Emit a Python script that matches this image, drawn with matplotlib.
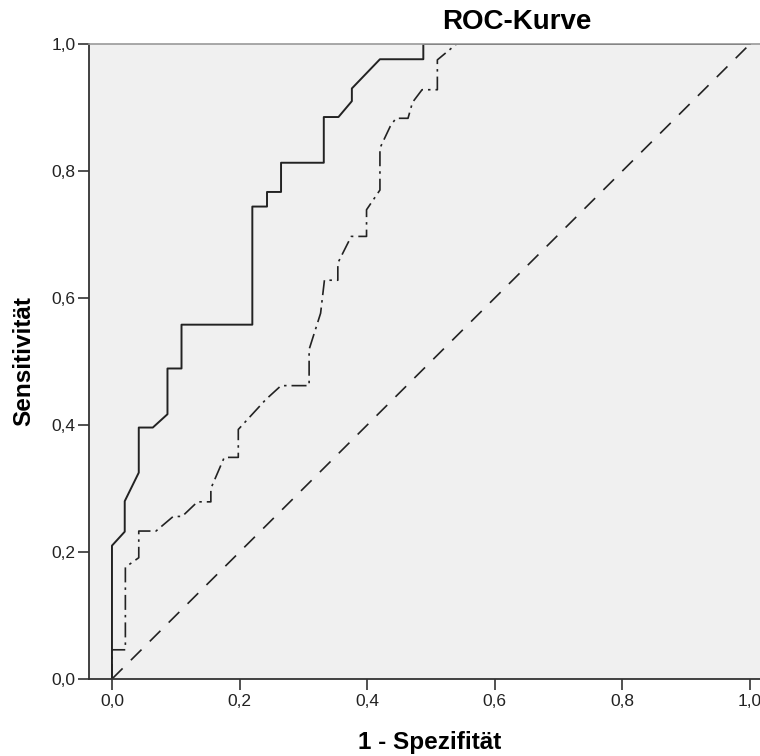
import matplotlib
matplotlib.use("Agg")
import matplotlib.pyplot as plt

# ROC curve data (1 - specificity, sensitivity)
fpr_solid = [0, 0, 0.02, 0.02, 0.042, 0.042, 0.064, 0.087, 0.087, 0.109, 0.109,
             0.220, 0.220, 0.243, 0.243, 0.265, 0.265, 0.332, 0.332, 0.355,
             0.376, 0.376, 0.420, 0.488, 0.488, 1.0]
tpr_solid = [0, 0.21, 0.232, 0.28, 0.325, 0.396, 0.396, 0.417, 0.489, 0.489, 0.558,
             0.558, 0.744, 0.744, 0.767, 0.767, 0.813, 0.813, 0.885, 0.885,
             0.910, 0.930, 0.976, 0.976, 1.0, 1.0]

fpr_dashdot = [0, 0, 0.021, 0.021, 0.042, 0.042, 0.069, 0.096, 0.11, 0.134, 0.155,
               0.155, 0.176, 0.198, 0.198, 0.241, 0.265, 0.309, 0.309, 0.327,
               0.333, 0.354, 0.354, 0.375, 0.399, 0.399, 0.420, 0.420, 0.436,
               0.445, 0.464, 0.471, 0.486, 0.51, 0.51, 0.54, 1.0]
tpr_dashdot = [0, 0.046, 0.046, 0.176, 0.191, 0.233, 0.233, 0.256, 0.256, 0.279, 0.279,
               0.30, 0.349, 0.349, 0.393, 0.440, 0.462, 0.462, 0.519, 0.576,
               0.628, 0.628, 0.655, 0.697, 0.697, 0.739, 0.770, 0.836, 0.870,
               0.883, 0.883, 0.908, 0.928, 0.928, 0.975, 1.0, 1.0]

ref_line = [0, 1]
ticks = [0.0, 0.2, 0.4, 0.6, 0.8, 1.0]
tick_labels = ["0,0", "0,2", "0,4", "0,6", "0,8", "1,0"]

plt.rcParams['font.family'] = ['Liberation Sans', 'DejaVu Sans']

fig = plt.figure(figsize=(7.6, 7.56), dpi=100)
ax = fig.add_axes([89 / 760, 77 / 756, 671 / 760, 635 / 756])
ax.set_facecolor("#f0f0f0")

ax.plot(ref_line, ref_line, color="#222222", lw=1.2, linestyle=(0, (9, 7)))
ax.plot(fpr_dashdot, tpr_dashdot, color="#222222", lw=1.2,
        linestyle=(0, (9, 3, 1.5, 3)))
ax.plot(fpr_solid, tpr_solid, color="#222222", lw=1.4)

ax.set_xlim(-0.036, 1.0157)
ax.set_ylim(0, 1)
ax.set_xticks(ticks)
ax.set_xticklabels(tick_labels)
ax.set_yticks(ticks)
ax.set_yticklabels(tick_labels)
ax.tick_params(direction="out", length=8, width=1.2, labelsize=12.5,
               color="#333333", labelcolor="#222222")
ax.tick_params(axis="y", pad=1.5)
ax.tick_params(axis="x", pad=3)

for side in ["left", "bottom"]:
    ax.spines[side].set_color("#333333")
    ax.spines[side].set_linewidth(1.3)
ax.spines["top"].set_color("#999999")
ax.spines["top"].set_linewidth(1.2)
ax.spines["right"].set_visible(False)

ax.set_xlabel("1 - Spezifität", fontsize=17.5, fontweight="bold")
ax.set_ylabel("Sensitivität", fontsize=17.5, fontweight="bold")
ax.xaxis.set_label_coords((430 - 89) / 671, -(742 - 679) / 635)
ax.yaxis.set_label_coords(-(89 - 24) / 671, (679 - 361) / 635)
ax.xaxis.label.set_va("center")
ax.yaxis.label.set_va("center")
fig.text(517 / 760, 1 - 22 / 756, "ROC-Kurve", fontsize=20, fontweight="bold",
         ha="center", va="center")

fig.savefig("out.png", dpi=100)
